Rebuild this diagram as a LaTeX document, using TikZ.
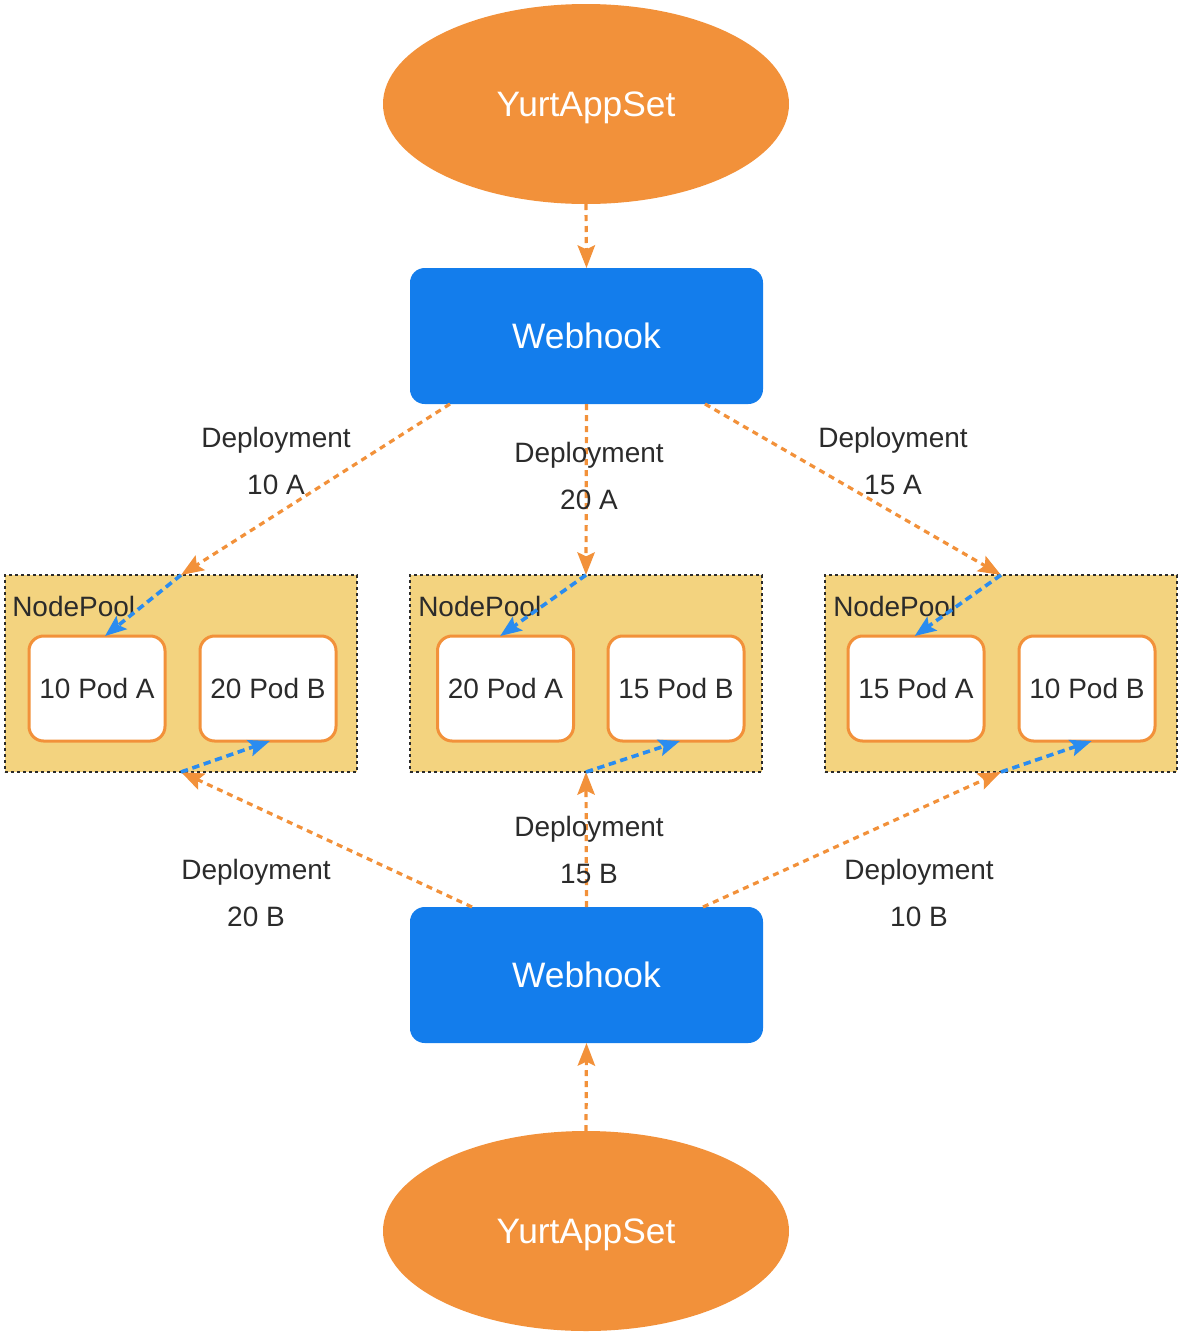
\documentclass[tikz,border=0pt]{standalone}
\usepackage{fontspec}
\setmainfont{Liberation Sans}
\usetikzlibrary{arrows.meta,shapes.geometric}
\definecolor{ysorange}{HTML}{F2913A}
\definecolor{poolfill}{HTML}{F3D37F}
\definecolor{hookblue}{HTML}{137DEC}
\definecolor{linkblue}{HTML}{2A8CF0}
\definecolor{ink}{HTML}{2B2B2B}
\begin{document}
\begin{tikzpicture}[x=0.75pt,y=-0.75pt,
  yurt/.style={ellipse,fill=ysorange,draw=none,minimum width=304.5pt,minimum height=150pt,
    inner sep=0pt,outer sep=0pt,text=white,text depth=0pt,font=\fontsize{26.5}{32}\selectfont},
  hook/.style={rectangle,rounded corners=11pt,fill=hookblue,draw=none,minimum width=264.75pt,
    minimum height=102pt,inner sep=0pt,outer sep=0pt,text=white,font=\fontsize{26.5}{32}\selectfont},
  pool/.style={rectangle,fill=poolfill,draw=ink,line width=1.1pt,dash pattern=on 2.5pt off 2pt,
    minimum width=264pt,minimum height=147.75pt,inner sep=0pt,outer sep=0pt},
  pod/.style={rectangle,rounded corners=11pt,fill=white,draw=ysorange,line width=2.25pt,
    minimum width=102pt,minimum height=78.75pt,inner sep=0pt,outer sep=0pt,text=ink,
    font=\fontsize{21}{25}\selectfont},
  poolname/.style={anchor=west,inner sep=0pt,text=ink,font=\fontsize{21}{25}\selectfont},
  deplabel/.style={align=center,inner sep=0pt,text=ink,font=\fontsize{21}{35.25}\selectfont},
  flow/.style={draw=ysorange,line width=2.4pt,dash pattern=on 4.5pt off 3.75pt,
    -{Stealth[length=17pt,width=13pt,inset=3pt]}},
  podlink/.style={draw=linkblue,line width=2.7pt,dash pattern=on 5.5pt off 3.5pt,
    -{Stealth[length=16pt,width=12.5pt,inset=3pt]}}]
\useasboundingbox (0,0) rectangle (1186,1336);

% controllers and webhooks
\node[yurt] (yastop) at (586,104) {YurtAppSet};
\node[hook] (whtop) at (586.5,336) {Webhook};
\node[hook] (whbot) at (586.5,975) {Webhook};
\node[yurt] (yasbot) at (586,1231) {YurtAppSet};

% node pools
\node[pool] (np1) at (181,673.5) {};
\node[pool] (np2) at (586,673.5) {};
\node[pool] (np3) at (1001,673.5) {};
\node[poolname] (np1name) at (12,606) {NodePool};
\node[poolname] (np2name) at (418,606) {NodePool};
\node[poolname] (np3name) at (833,606) {NodePool};

% pods
\node[pod] (pa1) at (97,688.5) {10 Pod A};
\node[pod] (pb1) at (268,688.5) {20 Pod B};
\node[pod] (pa2) at (505.5,688.5) {20 Pod A};
\node[pod] (pb2) at (676,688.5) {15 Pod B};
\node[pod] (pa3) at (916,688.5) {15 Pod A};
\node[pod] (pb3) at (1087,688.5) {10 Pod B};

% attachment points on the webhook edges
\coordinate (wt1) at (450,404);
\coordinate (wt3) at (705,404);
\coordinate (wb1) at (472,907);
\coordinate (wb3) at (703,907);

% orange flows
\draw[flow] (yastop.south) -- (whtop.north);
\draw[flow] (yasbot.north) -- (whbot.south);
\draw[flow] (wt1) -- (np1.north);
\draw[flow] (whtop.south) -- (np2.north);
\draw[flow] (wt3) -- (np3.north);
\draw[flow] (wb1) -- (np1.south);
\draw[flow] (whbot.north) -- (np2.south);
\draw[flow] (wb3) -- (np3.south);

% blue pod links
\draw[podlink] (np1.north) -- ([xshift=6pt]pa1.north);
\draw[podlink] (np2.north) -- ([xshift=-4pt]pa2.north);
\draw[podlink] (np3.north) -- ([xshift=-1pt]pa3.north);
\draw[podlink] (np1.south) -- ([xshift=1.5pt]pb1.south);
\draw[podlink] (np2.south) -- ([xshift=3pt]pb2.south);
\draw[podlink] (np3.south) -- ([xshift=3.5pt]pb3.south);

% deployment labels
\node[deplabel] (l1) at (276,460.5) {Deployment\\10 A};
\node[deplabel] (l2) at (589,475.5) {Deployment\\20 A};
\node[deplabel] (l3) at (893,460.5) {Deployment\\15 A};
\node[deplabel] (l4) at (256,892.5) {Deployment\\20 B};
\node[deplabel] (l5) at (589,849.5) {Deployment\\15 B};
\node[deplabel] (l6) at (919,892.5) {Deployment\\10 B};
\end{tikzpicture}
\end{document}
